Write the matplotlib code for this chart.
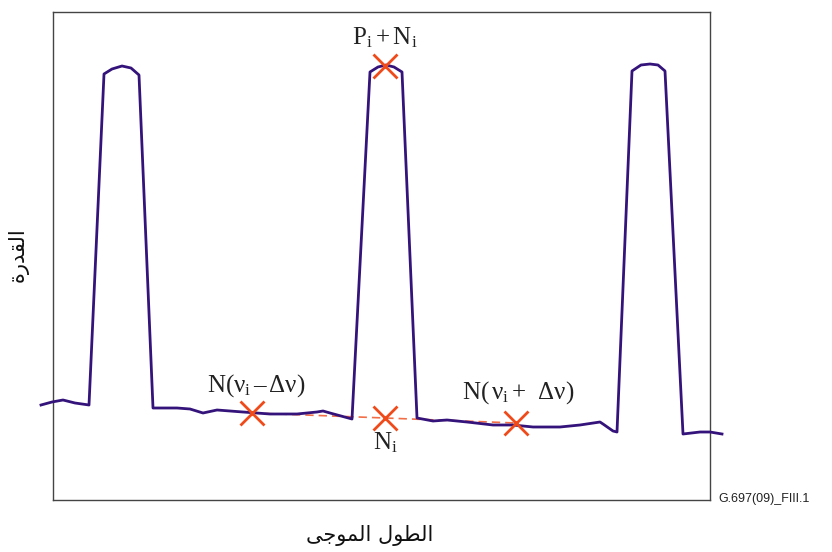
import matplotlib
matplotlib.use("Agg")
import matplotlib.pyplot as plt

plt.rcParams['mathtext.fontset'] = 'custom'
plt.rcParams['mathtext.rm'] = 'Liberation Serif'
plt.rcParams['mathtext.it'] = 'Liberation Serif:italic'
plt.rcParams['font.family'] = ['Liberation Serif', 'DejaVu Sans']

# Spectrum trace (wavelength, power) in arbitrary units
wavelength = [-12, -1, 10, 22, 36, 51, 59, 69, 78, 86, 100, 124, 137, 150, 164,
              190, 217, 244, 264, 270, 277, 299, 317, 325, 333, 341, 349, 364,
              380, 394, 414, 440, 460, 480, 507, 527, 547, 550, 560, 564, 579,
              588, 597, 605, 612, 630, 647, 657, 669]
power = [95, 98, 100, 97, 95, 426, 431, 434, 432, 425, 92, 92, 91, 87, 90,
         88, 86, 86, 88, 89, 87, 81, 428, 433, 435, 433, 428, 82,
         79, 80, 78, 75, 75, 73, 73, 75, 78, 76, 69, 68, 429,
         435, 436, 435, 429, 66, 68, 68, 66]

# Measurement points
noise_x = [199, 332, 463]
noise_y = [87, 82, 77]
peak_x = [332]
peak_y = [434]

labels = [r'$\mathrm{P_i + N_i}$', r'$\mathrm{N(ν_i\,–\,Δν)}$',
          r'$\mathrm{N(\,ν_i+\;\,Δν)}$', r'$\mathrm{N_i}$']
label_x = [332, 203, 465, 332]
label_y = [462, 114, 107, 57]

# Arabic labels (presentation forms, visual order)
ylabel = '\uFE93\uFEAD\uFEAA\uFED8\uFEDF\uFE8D'          # القدرة
xlabel = '\uFEF0\uFE9F\uFEEE\uFEE4\uFEDF\uFE8D \uFEDD\uFEEE\uFEC4\uFEDF\uFE8D'  # الطول الموجى

fig = plt.figure(figsize=(8.32, 5.52), dpi=100)
ax = fig.add_axes([53/832, 52/552, 657/832, 488/552])
ax.set_xlim(0, 657)
ax.set_ylim(0, 488)
ax.set_xticks([])
ax.set_yticks([])
for s in ax.spines.values():
    s.set_color('#444444')
    s.set_linewidth(1.0)

orange = '#EE4A1A'
ax.plot(noise_x, noise_y, color=orange, lw=1.2, ls=(0, (5, 3)), zorder=2, alpha=0.8)
ax.plot(wavelength, power, color='#34137A', lw=2.0, clip_on=False, zorder=3)
ax.plot(noise_x, noise_y, ls='none', marker='x', ms=17, mew=2.0, color=orange, zorder=4)
ax.plot(peak_x, peak_y, ls='none', marker='x', ms=17, mew=2.0, color=orange, zorder=4)

for t, x, y in zip(labels, label_x, label_y):
    ax.text(x, y, t, ha='center', va='center', fontsize=18, color='#222222')

fig.text(18/832, 1 - 255/552, ylabel, rotation=90, ha='center', va='center',
         fontsize=15, family=['DejaVu Sans'], color='#111111')
fig.text(370/832, 1 - 535/552, xlabel, ha='center', va='center',
         fontsize=15, family=['DejaVu Sans'], color='#111111')
fig.text(718/832, 1 - 499/552, 'G.697(09)_FIII.1', ha='left', va='center',
         fontsize=9, family=['Liberation Sans'], color='#222222')

fig.savefig('out.png', dpi=100)
